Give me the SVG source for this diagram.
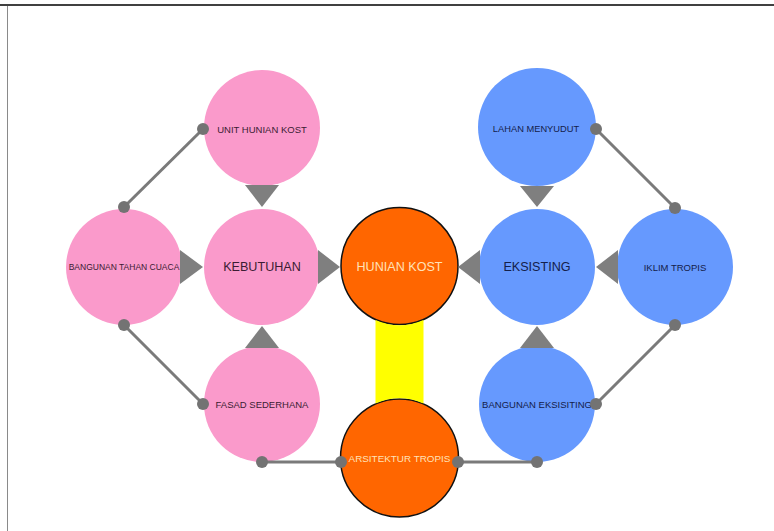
<svg xmlns="http://www.w3.org/2000/svg" width="774" height="531" viewBox="0 0 774 531">
<style>
text{font-family:"Liberation Sans",Arial,sans-serif;text-anchor:middle;dominant-baseline:central}
.pink{fill:#fa9acb}
.blue{fill:#6699fe}
.orange{fill:#ff6600;stroke:#111;stroke-width:1.5}
.tp{fill:#3b1c33}
.tb{fill:#14204a}
.to{fill:#ffe2b8}
.s{font-size:9.5px}
.l{font-size:12.6px}
.ln{stroke:#7a7a7a;stroke-width:3;fill:none}
.dot{fill:#737373}
.tri{fill:#7f7f7f}
</style>
<rect width="774" height="531" fill="#fff"/>
<line x1="0" y1="5" x2="774" y2="5" stroke="#000" stroke-width="1.6"/>
<line x1="7.5" y1="6" x2="7.5" y2="531" stroke="#8a8a8a" stroke-width="1"/>
<g id="nodes">
<g id="unit-hunian-kost"><circle class="pink" cx="262" cy="128" r="58"/><text class="tp s" x="262" y="129">UNIT HUNIAN KOST</text></g>
<g id="bangunan-tahan-cuaca"><circle class="pink" cx="124" cy="267" r="58"/><text class="tp" style="font-size:8.5px" x="124" y="267">BANGUNAN TAHAN CUACA</text></g>
<g id="kebutuhan"><circle class="pink" cx="262" cy="267" r="58"/><text class="tp l" x="262" y="267">KEBUTUHAN</text></g>
<g id="fasad-sederhana"><circle class="pink" cx="262" cy="404" r="58"/><text class="tp s" x="262" y="404">FASAD SEDERHANA</text></g>
<g id="hunian-kost"><circle class="orange" cx="399.5" cy="266" r="58.5"/><text class="to l" x="399.5" y="267">HUNIAN KOST</text></g>
<g id="arsitektur-tropis"><circle class="orange" cx="399.5" cy="458" r="59"/><text class="to" style="font-size:9.9px" x="399.5" y="458">ARSITEKTUR TROPIS</text></g>
<g id="lahan-menyudut"><circle class="blue" cx="537" cy="127" r="59"/><text class="tb" style="font-size:9.3px" x="536" y="129">LAHAN MENYUDUT</text></g>
<g id="eksisting"><circle class="blue" cx="537" cy="267" r="58"/><text class="tb l" x="537" y="267">EKSISTING</text></g>
<g id="iklim-tropis"><circle class="blue" cx="675" cy="267" r="58"/><text class="tb s" x="675" y="267">IKLIM TROPIS</text></g>
<g id="bangunan-eksisiting"><circle class="blue" cx="537" cy="404" r="58"/><text class="tb s" x="537" y="404">BANGUNAN EKSISITING</text></g>
</g>
<g id="connectors">
<path fill="#ffff00" d="M375.5,319.9 A59.2,59.2 0 0 0 423.5,319.9 L423.5,403.4 A59.7,59.7 0 0 0 375.5,403.4 Z"/>
<polygon class="tri" points="245,185 279,185 262,207"/>
<polygon class="tri" points="180,250 180,284 203,267"/>
<polygon class="tri" points="318,250 318,284 340,267"/>
<polygon class="tri" points="245,348 279,348 262,326"/>
<polygon class="tri" points="520,186 554,186 537,207"/>
<polygon class="tri" points="480,250 480,284 458,267"/>
<polygon class="tri" points="618,250 618,284 596,267"/>
<polygon class="tri" points="520,348 554,348 537,326"/>
<line class="ln" x1="203" y1="129" x2="124" y2="207"/>
<line class="ln" x1="124" y1="325" x2="203" y2="404"/>
<line class="ln" x1="596" y1="129" x2="675" y2="208"/>
<line class="ln" x1="675" y1="325" x2="596" y2="404"/>
<line class="ln" x1="262" y1="462" x2="341" y2="462"/>
<line class="ln" x1="458" y1="462" x2="537" y2="462"/>
<circle class="dot" cx="203" cy="129" r="6"/>
<circle class="dot" cx="124" cy="207" r="6"/>
<circle class="dot" cx="124" cy="325" r="6"/>
<circle class="dot" cx="203" cy="404" r="6"/>
<circle class="dot" cx="596" cy="129" r="6"/>
<circle class="dot" cx="675" cy="208" r="6"/>
<circle class="dot" cx="675" cy="325" r="6"/>
<circle class="dot" cx="596" cy="404" r="6"/>
<circle class="dot" cx="262" cy="462" r="6"/>
<circle class="dot" cx="341" cy="462" r="6"/>
<circle class="dot" cx="458" cy="462" r="6"/>
<circle class="dot" cx="537" cy="462" r="6"/>
</g>
</svg>
